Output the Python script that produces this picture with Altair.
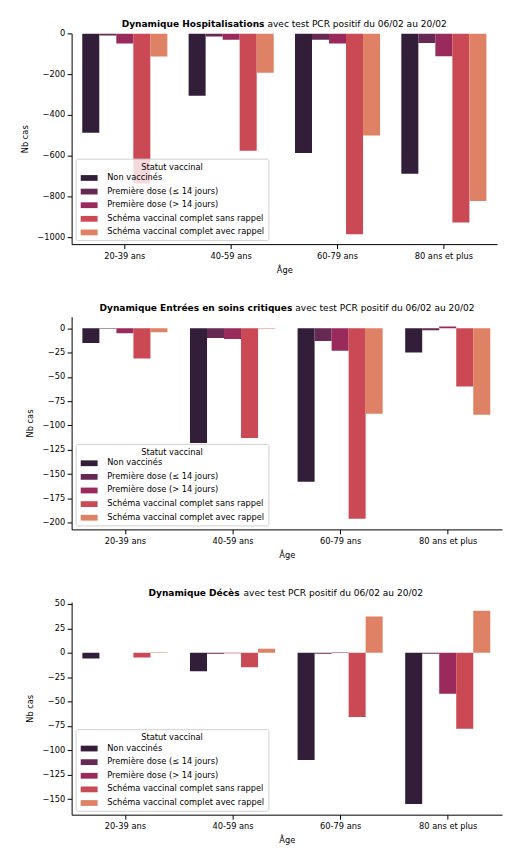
import altair as alt
import pandas as pd

ages = ["20-39 ans", "40-59 ans", "60-79 ans", "80 ans et plus"]
statuts = [
    "Non vaccinés",
    "Première dose (≤ 14 jours)",
    "Première dose (> 14 jours)",
    "Schéma vaccinal complet sans rappel",
    "Schéma vaccinal complet avec rappel",
]
colors = ["#331e39", "#662953", "#9a2a5b", "#cb4954", "#df8165"]

# Hospitalisations (par âge)
hosp_nv = [-488, -306, -587, -689]
hosp_d1a = [-10, -15, -31, -47]
hosp_d1b = [-50, -31, -50, -112]
hosp_sans = [-737, -576, -985, -928]
hosp_avec = [-114, -193, -501, -823]

# Entrées en soins critiques
sc_nv = [-15, -118, -158, -25]
sc_d1a = [-0.5, -10, -13, -2]
sc_d1b = [-5, -11, -23, 2]
sc_sans = [-31, -113, -196, -60]
sc_avec = [-4, -0.5, -88, -89]

# Décès
dc_nv = [-6, -19, -110, -155]
dc_d1a = [0, -1, -1, -1]
dc_d1b = [0, -0.5, 0.5, -42]
dc_sans = [-5, -15, -66, -78]
dc_avec = [0.5, 4, 37, 43]

hosp_ticks = [0, -200, -400, -600, -800, -1000]
sc_ticks = [0, -25, -50, -75, -100, -125, -150, -175, -200]
dc_ticks = [50, 25, 0, -25, -50, -75, -100, -125, -150]

FONT = "DejaVu Sans"
FS = 8.3
TFS = 9.1


def build(series, bold, normal, ydomain, yticks, width, height, split, ytitle_x):
    rows = []
    for statut, vals in zip(statuts, series):
        for age, v in zip(ages, vals):
            rows.append({"age": age, "statut": statut, "val": v})
    df = pd.DataFrame(rows)
    bars = alt.Chart(df).mark_bar(clip=True).encode(
        x=alt.X(
            "age:N",
            sort=ages,
            scale=alt.Scale(domain=ages, paddingInner=0.2, paddingOuter=0.1),
            axis=alt.Axis(title="Âge", labelAngle=0, titlePadding=6),
        ),
        xOffset=alt.XOffset(
            "statut:N",
            sort=statuts,
            scale=alt.Scale(domain=statuts, paddingInner=0, paddingOuter=0),
        ),
        y=alt.Y(
            "val:Q",
            scale=alt.Scale(domain=ydomain, nice=False),
            axis=alt.Axis(
                title="Nb cas", values=yticks, format="d",
                titleX=ytitle_x, titleBaseline="bottom",
            ),
        ),
        y2=alt.datum(0),
        color=alt.Color(
            "statut:N",
            sort=statuts,
            scale=alt.Scale(domain=statuts, range=colors),
            legend=alt.Legend(
                title="Statut vaccinal",
                orient="bottom-left",
                offset=4,
                padding=4,
                fillColor="rgba(255,255,255,0.8)",
                strokeColor="#d0d0d0",
                cornerRadius=2,
                titleAnchor="middle",
                titleFontSize=FS,
                titleFontWeight="normal",
                titleColor="black",
                titlePadding=3,
                labelFontSize=FS,
                labelColor="black",
                symbolType="M-2.83,-0.97L2.83,-0.97L2.83,0.97L-2.83,0.97Z",
                symbolSize=36,
                symbolStrokeWidth=0,
                symbolOpacity=1,
                symbolOffset=5.5,
                labelOffset=14,
                rowPadding=4.7,
            ),
        ),
    )
    tdf = pd.DataFrame({"bold": [bold], "normal": [normal]})
    t_bold = alt.Chart(tdf).mark_text(
        align="right", baseline="alphabetic", fontWeight="bold", font=FONT, fontSize=TFS, color="black"
    ).encode(x=alt.value(split[0]), y=alt.value(-6), text="bold:N")
    t_norm = alt.Chart(tdf).mark_text(
        align="left", baseline="alphabetic", font=FONT, fontSize=TFS, color="black"
    ).encode(x=alt.value(split[1]), y=alt.value(-6), text="normal:N")
    return alt.layer(bars, t_bold, t_norm).properties(width=width, height=height)


suffix = "avec test PCR positif du 06/02 au 20/02"
p1 = build(
    [hosp_nv, hosp_d1a, hosp_d1b, hosp_sans, hosp_avec],
    "Dynamique Hospitalisations", suffix, [-1034, 0], hosp_ticks, 428, 212, (194, 197), -42.5,
)
p2 = build(
    [sc_nv, sc_d1a, sc_d1b, sc_sans, sc_avec],
    "Dynamique Entrées en soins critiques", suffix, [-207, 12], sc_ticks, 433, 214, (222, 225), -37,
)
p3 = build(
    [dc_nv, dc_d1a, dc_d1b, dc_sans, dc_avec],
    "Dynamique Décès", suffix, [-166, 52], dc_ticks, 433, 214, (169, 173), -37,
)

chart = alt.vconcat(p1, p2, p3, spacing=30).resolve_scale(
    color="independent", y="independent", x="independent"
).resolve_legend(color="independent").properties(
    padding={"left": 12, "top": 10, "right": 5, "bottom": 5}
).configure(font=FONT).configure_view(stroke=None).configure_axis(
    grid=False,
    domainColor="black",
    domainWidth=1,
    tickColor="black",
    tickWidth=1,
    tickSize=4.5,
    labelColor="black",
    labelFontSize=FS,
    labelFont=FONT,
    labelPadding=2.5,
    titleColor="black",
    titleFontSize=FS,
    titleFont=FONT,
    titleFontWeight="normal",
    titlePadding=5,
)

chart.save("out.html", embed_options={"renderer": "svg", "actions": False})
